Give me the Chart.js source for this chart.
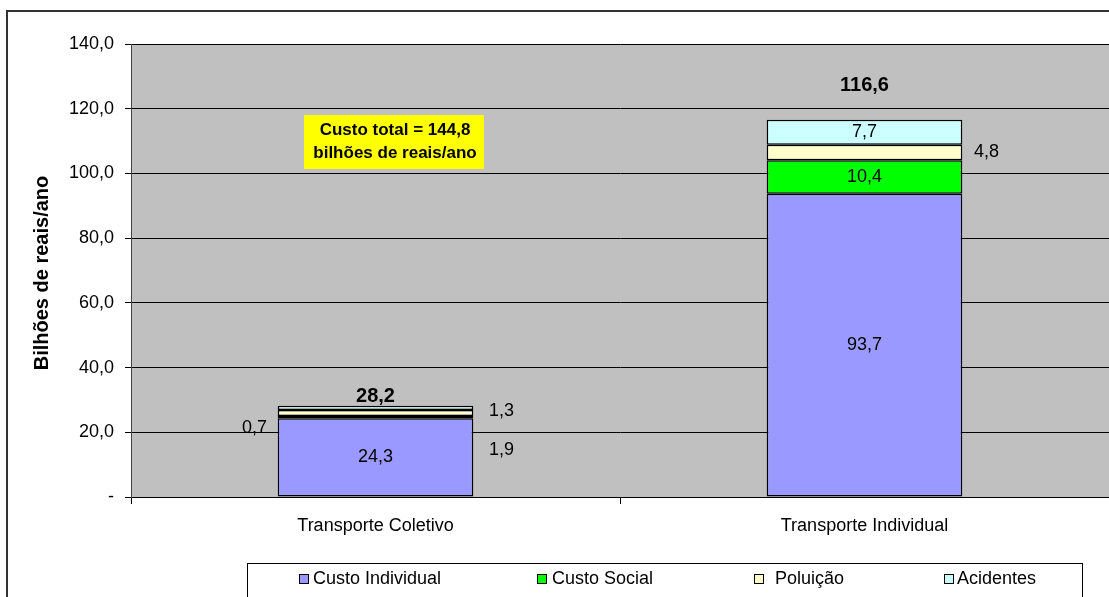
<!DOCTYPE html>
<html>
<head>
<meta charset="utf-8">
<script src="https://cdn.jsdelivr.net/npm/chart.js@4/dist/chart.umd.min.js"></script>
<style>
  body { margin: 0; background: #fff; }
  canvas { display: block; }
</style>
</head>
<body>
<canvas id="chart" width="1109" height="597"></canvas>
<script>
const categories = ["Transporte Coletivo", "Transporte Individual"];
const seriesNames = ["Custo Individual", "Custo Social", "Poluição", "Acidentes"];
const custoIndividual = [24.3, 93.7];
const custoSocial = [0.7, 10.4];
const poluicao = [1.9, 4.8];
const acidentes = [1.3, 7.7];
const totals = [28.2, 116.6];
const yTicks = [0, 20, 40, 60, 80, 100, 120, 140];

const colors = ['#9999ff', '#00ff00', '#ffffcc', '#ccffff'];
const FONT = '"Liberation Sans", Arial, sans-serif';

// where each value label sits, relative to its segment centre (null = inside)
const labelShift = [
    [null, null],
    [[-121, 11], null],
    [[126, 37], [122, 0]],
    [[126, 3], null]
];
const totalGap = [9, 34];

const fmt = v => v.toFixed(1).replace('.', ',');

const chartPlugin = {
    id: 'extras',
    beforeDraw(chart) {
        const ctx = chart.ctx, a = chart.chartArea;
        ctx.save();
        ctx.fillStyle = '#fff';
        ctx.fillRect(0, 0, chart.width, chart.height);
        // outer frame
        ctx.strokeStyle = '#333';
        ctx.lineWidth = 2;
        ctx.beginPath();
        ctx.moveTo(7, chart.height + 2);
        ctx.lineTo(7, 11);
        ctx.lineTo(chart.width + 2, 11);
        ctx.stroke();
        ctx.fillStyle = '#c0c0c0';
        ctx.fillRect(a.left, a.top, a.right - a.left, a.bottom - a.top);
        ctx.restore();
    },
    afterDatasetsDraw(chart) {
        const ctx = chart.ctx, y = chart.scales.y;
        ctx.save();
        ctx.fillStyle = '#000';
        ctx.textAlign = 'center';
        ctx.textBaseline = 'middle';
        ctx.font = '18px ' + FONT;
        chart.data.datasets.forEach((ds, i) => {
            chart.getDatasetMeta(i).data.forEach((bar, j) => {
                const cy = (bar.y + bar.base) / 2;
                const s = labelShift[i][j];
                if (s) ctx.fillText(fmt(ds.data[j]), bar.x + s[0], cy + s[1]);
                else ctx.fillText(fmt(ds.data[j]), bar.x, cy);
            });
        });
        ctx.font = 'bold 20px ' + FONT;
        const last = chart.getDatasetMeta(3).data;
        totals.forEach((t, j) => {
            ctx.fillText(fmt(t), last[j].x, y.getPixelForValue(t) - totalGap[j]);
        });

        // yellow note box
        ctx.fillStyle = '#ffff00';
        ctx.fillRect(304, 115, 180, 54);
        ctx.fillStyle = '#000';
        ctx.font = 'bold 17px ' + FONT;
        ctx.fillText('Custo total = 144,8', 395, 130);
        ctx.fillText('bilhões de reais/ano', 395, 153);

        // y axis title
        ctx.save();
        ctx.translate(42, 273);
        ctx.rotate(-Math.PI / 2);
        ctx.font = 'bold 20px ' + FONT;
        ctx.fillText('Bilhões de reais/ano', 0, 0);
        ctx.restore();

        // legend
        ctx.strokeStyle = '#000';
        ctx.lineWidth = 1;
        ctx.fillStyle = '#fff';
        ctx.fillRect(247.5, 563.5, 835, 40);
        ctx.strokeRect(247.5, 563.5, 835, 40);
        const lx = [299, 537, 754, 944];
        const tx = [313, 552, 775, 957];
        ctx.textAlign = 'left';
        ctx.font = '18px ' + FONT;
        seriesNames.forEach((n, i) => {
            ctx.fillStyle = colors[i];
            ctx.fillRect(lx[i] + 0.5, 574.5, 9, 9);
            ctx.strokeRect(lx[i] + 0.5, 574.5, 9, 9);
            ctx.fillStyle = '#000';
            ctx.fillText(n, tx[i], 579);
        });
        ctx.restore();
    }
};

const config = {
    type: 'bar',
    data: {
        labels: categories,
        datasets: [custoIndividual, custoSocial, poluicao, acidentes].map((d, i) => ({
            label: seriesNames[i],
            data: d,
            backgroundColor: colors[i],
            borderColor: '#000',
            borderWidth: 1.5,
            borderSkipped: false,
            categoryPercentage: 1,
            barPercentage: 0.4
        }))
    },
    options: {
        responsive: false,
        animation: false,
        layout: { padding: { top: 44, left: 0, right: -2, bottom: 0 } },
        plugins: { legend: { display: false }, tooltip: { enabled: false } },
        scales: {
            x: {
                stacked: true,
                afterFit: s => { s.height = 100; },
                grid: { drawOnChartArea: false, tickLength: 7, color: '#000' },
                border: { color: '#000', width: 1 },
                ticks: { color: '#000', padding: 11, font: { family: FONT, size: 18 } }
            },
            y: {
                stacked: true,
                min: 0,
                max: 140,
                afterFit: s => { s.width = 131; },
                afterBuildTicks: s => { s.ticks = yTicks.map(v => ({ value: v })); },
                grid: { color: '#000', tickLength: 6 },
                border: { color: '#444', width: 1 },
                ticks: {
                    color: '#000',
                    padding: 11,
                    font: { family: FONT, size: 18 },
                    callback: v => v === 0 ? '-' : fmt(v)
                }
            }
        }
    },
    plugins: [chartPlugin]
};

new Chart(document.getElementById('chart').getContext('2d'), config);
</script>
</body>
</html>
